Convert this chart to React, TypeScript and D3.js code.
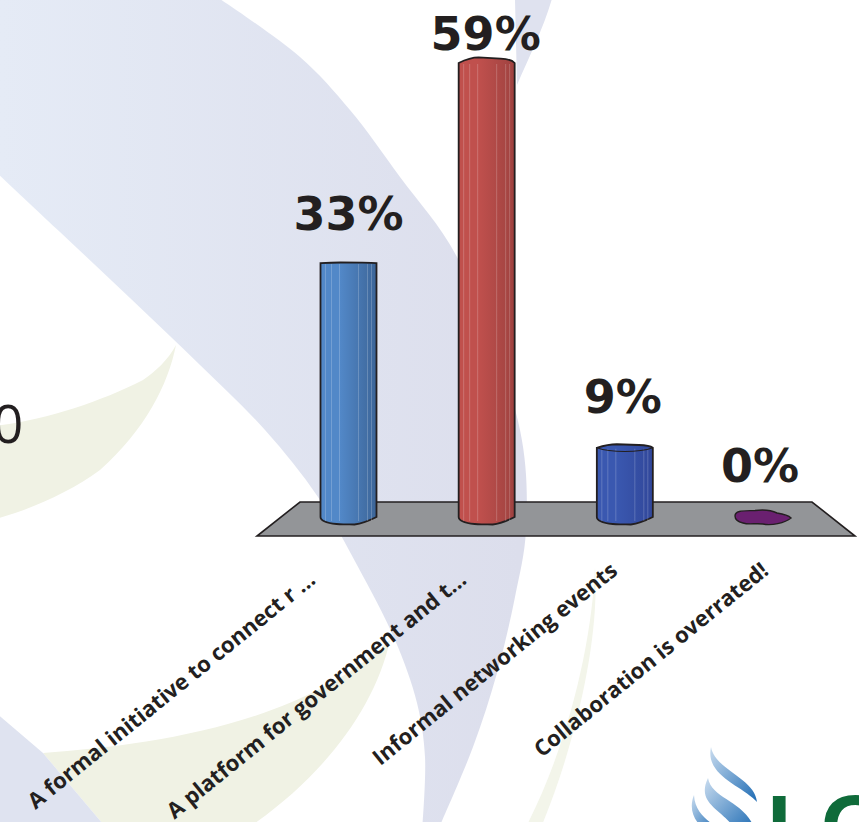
import React from 'react';
import * as d3 from 'd3';

const categories = [
  'A formal initiative to connect r ...',
  'A platform for government and t...',
  'Informal networking events',
  'Collaboration is overrated!',
];
const percents = [33, 59, 9, 0];
const lightColors = ['#5288c8', '#c0504d', '#3a58b0', '#6a2070'];
const darkColors = ['#3c6598', '#9f4240', '#31479a', '#5a1c62'];

const width = 859;
const height = 822;
const ink = '#231f20';

const x = d3.scalePoint<string>().domain(categories).range([348.5, 763]);
const labelEnd = d3.scalePoint<string>().domain(categories).range([317, 770]);
const y = d3.scaleLinear().domain([0, 59]).range([517, 63]);
const barHalf = 28;

const swooshEdge = d3.line().curve(d3.curveCatmullRom);

const bigSwoosh = swooshEdge([
  [-5, 171], [60, 232], [130, 298], [200, 365], [265, 430], [318, 497], [357, 565], [395, 640], [417, 703], [425, 757], [422, 830],
])! + swooshEdge([
  [438, 830], [473, 747], [497, 673], [515, 597], [526, 530], [520, 430], [457, 257], [400, 177], [350, 110], [300, 57], [214, -5],
])!.replace(/^M/, 'L') + 'L-5,-5Z';

const topSliver = 'M507,-5 L553,-5 C545,25 530,55 517,85 L515,0Z';
const cornerSwoosh = 'M-5,712 L43,753 L108,830 L-5,830Z';
const greenOne = 'M-5,426 C45,420 100,402 143,380 C155,372 168,360 176,345 C168,385 145,430 100,470 C70,492 30,510 -5,519Z';
const greenTwo = 'M43,753 C150,745 300,725 390,640 C375,710 320,780 245,830 L108,830Z';
const greenThree = 'M595,567 C592,640 570,740 527,825 L542,825 C575,745 600,640 595,567Z';

// outline of a column, rounded at the foot, with a slightly bumpy top
function columnPath(cx: number, top: number, dome: number) {
  const l = cx - barHalf;
  const r = cx + barHalf;
  return `M${l},${top}
    C${l + 8},${top - dome} ${l + 14},${top - dome * 1.4} ${cx - 8},${top - dome * 1.4}
    L${cx + 14},${top - dome * 1.1}
    C${r - 6},${top - dome} ${r - 2},${top - dome * 0.6} ${r},${top}
    L${r},517
    C${r - 10},522 ${r - 18},524 ${cx + 6},524.5
    C${cx - 2},524 ${cx - 6},525 ${cx - 12},524
    C${l + 6},523 ${l},521 ${l},517 Z`;
}

function blobPath(cx: number) {
  return `M${cx - 28},516
    C${cx - 28},510 ${cx - 18},511 ${cx - 8},510.5
    C${cx + 4},509 ${cx + 10},511 ${cx + 14},513
    C${cx + 20},514 ${cx + 26},516 ${cx + 28},518
    C${cx + 22},523 ${cx + 8},526 ${cx},524
    C${cx - 8},523 ${cx - 14},525 ${cx - 20},523
    C${cx - 24},522 ${cx - 28},520 ${cx - 28},516 Z`;
}

const stripeOffsets = [-23, -17, -9, 10, 19, 23];

export default function App() {
  const floorLeft = x(categories[0])! - 48.5;
  const floorRight = x(categories[3])! + 49;

  return (
    <svg
      width={width}
      height={height}
      viewBox={`0 0 ${width} ${height}`}
      style={{ position: 'fixed', left: 0, top: 0, background: '#ffffff' }}
    >
      <defs>
        <linearGradient id="lav" gradientUnits="userSpaceOnUse" x1="0" y1="0" x2="520" y2="0">
          <stop offset="0%" stopColor="#e5ebf6" />
          <stop offset="100%" stopColor="#dcdeec" />
        </linearGradient>
        {categories.map((c, i) => (
          <linearGradient key={c} id={`bar-${i}`} x1="0" y1="0" x2="1" y2="0">
            <stop offset="0%" stopColor={lightColors[i]} />
            <stop offset="35%" stopColor={lightColors[i]} />
            <stop offset="100%" stopColor={darkColors[i]} />
          </linearGradient>
        ))}
        <linearGradient id="strand" x1="0" y1="0" x2="1" y2="1">
          <stop offset="0%" stopColor="#c9dcef" />
          <stop offset="100%" stopColor="#1f6cb4" />
        </linearGradient>
      </defs>

      <path d={greenOne} fill="#f0f2e4" />
      <path d={greenTwo} fill="#f0f2e4" />
      <path d={greenThree} fill="#f3f5ea" />
      <path d={bigSwoosh} fill="url(#lav)" />
      <path d={topSliver} fill="#dfe2ef" />
      <path d={cornerSwoosh} fill="#dfe3f0" />

      <text x={-7} y={443} fontFamily="'Open Sans', sans-serif" fontSize={53} fill={ink}>0</text>

      <path
        d={`M${floorLeft},502 L${floorRight},502 L${floorRight + 43},536 L${floorLeft - 43},536 Z`}
        fill="#939598"
        stroke={ink}
        strokeWidth={1.6}
      />

      {categories.map((c, i) => {
        const cx = x(c)!;
        const v = percents[i];
        if (v === 0) {
          return <path key={c} d={blobPath(cx)} fill={lightColors[i]} stroke={ink} strokeWidth={1.4} />;
        }
        const top = y(v);
        const dome = v > 50 ? 4 : v < 15 ? 2.5 : 0.4;
        return (
          <g key={c}>
            <path d={columnPath(cx, top, dome)} fill={`url(#bar-${i})`} stroke={ink} strokeWidth={1.8} />
            {stripeOffsets.map(o => (
              <line
                key={o}
                x1={cx + o}
                x2={cx + o}
                y1={top + 1}
                y2={521}
                stroke="#ffffff"
                strokeOpacity={0.2}
                strokeWidth={1}
              />
            ))}
            {v < 15 && (
              <path
                d={`M${cx - barHalf},${top} C${cx - 14},${top + 5} ${cx + 14},${top + 5} ${cx + barHalf},${top}`}
                fill="none"
                stroke={ink}
                strokeWidth={1.2}
              />
            )}
          </g>
        );
      })}

      {categories.map((c, i) => (
        <text
          key={c}
          x={x(c)! - i}
          y={i === 3 ? 482 : y(percents[i]) - (percents[i] > 50 ? 13 : percents[i] < 15 ? 35 : 33)}
          textAnchor="middle"
          fontFamily="'DejaVu Sans', sans-serif"
          fontWeight="bold"
          fontSize={46}
          fill={ink}
        >
          {percents[i]}%
        </text>
      ))}

      {categories.map((c, i) => (
        <text
          key={c}
          transform={`translate(${labelEnd(c)!},${i > 1 ? 573 : 582}) rotate(-39)`}
          textAnchor="end"
          fontFamily="'Open Sans', sans-serif"
          fontWeight={700}
          fontSize={22}
          fill={ink}
        >
          {c}
        </text>
      ))}

      <g>
        <path d="M711,747 C715,770 755,778 757,802 L755,800 C740,785 705,775 711,747Z" fill="url(#strand)" />
        <path d="M708,778 C712,800 745,800 755,830 L735,830 C725,810 695,805 708,778Z" fill="url(#strand)" />
        <path d="M694,795 C695,815 710,820 718,830 L705,830 C695,822 688,810 694,795Z" fill="url(#strand)" />
        <text x={767} y={856} fontFamily="'Liberation Sans', sans-serif" fontWeight="bold" fontSize={88} fill="#0f6b3a">LG</text>
      </g>
    </svg>
  );
}
